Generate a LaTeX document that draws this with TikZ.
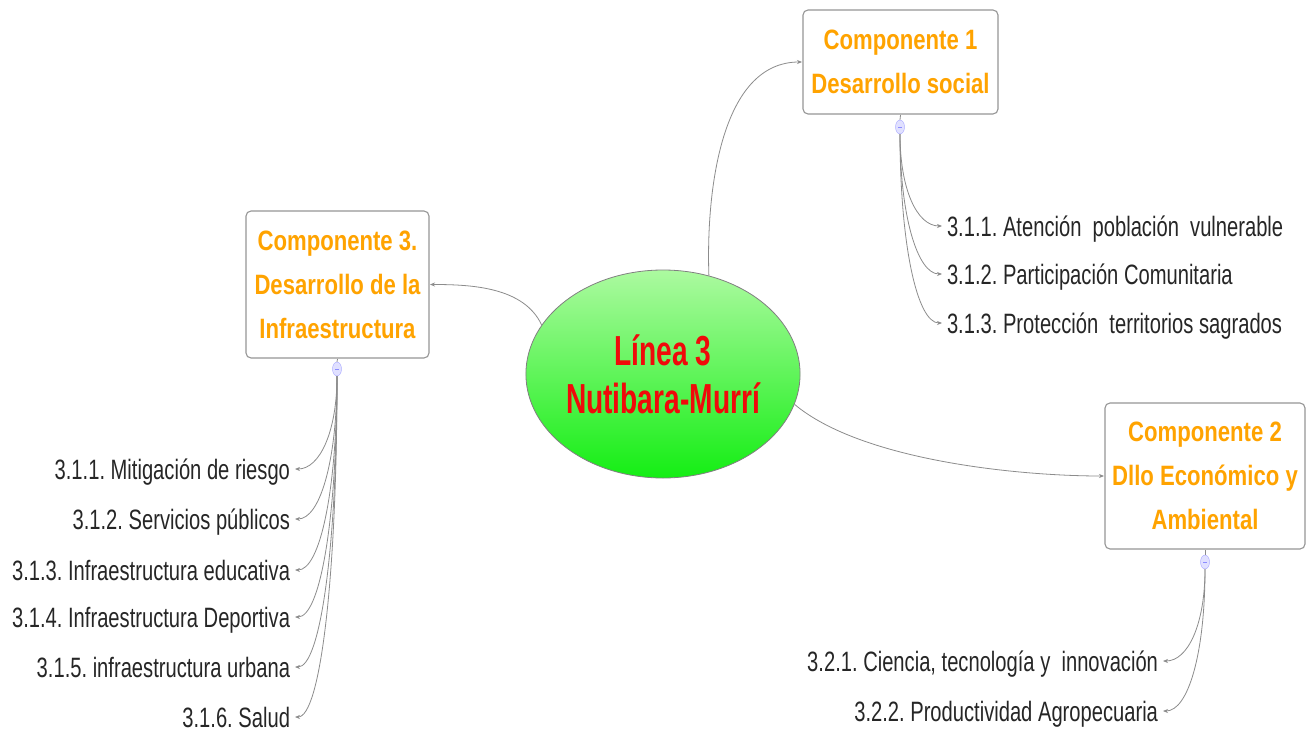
\documentclass[tikz,border=0pt]{standalone}
\usepackage{fontspec}
\setmainfont{Liberation Sans}[FakeStretch=0.72]
\newfontfamily\ctrfont{Liberation Sans}[FakeStretch=0.67]
\newfontfamily\compfont{Liberation Sans}[FakeStretch=0.79]
\usetikzlibrary{shapes.geometric,arrows.meta}
\definecolor{orangetxt}{RGB}{255,163,0}
\definecolor{redtxt}{RGB}{240,10,10}
\definecolor{lingray}{RGB}{140,140,140}
\definecolor{boxgray}{RGB}{150,150,150}
\frenchspacing
\begin{document}
\begin{tikzpicture}[x=1pt,y=1pt,
  comp/.style={draw=boxgray,line width=1.1pt,rounded corners=5pt,fill=white,align=center,
    font=\fontsize{28}{44}\compfont\bfseries,text=orangetxt,inner sep=0pt,outer sep=1pt},
  leaf/.style={font=\fontsize{28}{34}\selectfont,text=black!85,inner sep=0pt,outer sep=5pt,
    text height=20pt,text depth=0pt},
  dot/.style={ellipse,draw=blue!35,fill=blue!12,minimum width=9pt,minimum height=14pt,inner sep=0pt},
  link/.style={draw=lingray,line width=0.8pt,-{Stealth[length=5pt,width=4pt]}},
  stem/.style={draw=lingray,line width=0.8pt}]
\useasboundingbox (0,0) rectangle (1312,-731);
\fill[white] (0,0) rectangle (1312,-731);

% center
\node[ellipse,draw=gray,line width=0.8pt,minimum width=273pt,minimum height=208pt,inner sep=0pt,
  top color={rgb,255:red,172;green,250;blue,160},bottom color={rgb,255:red,20;green,238;blue,20},
  align=center,font=\fontsize{42}{48}\ctrfont\bfseries,text=redtxt] (ctr) at (663,-374)
  {Línea 3\\Nutibara-Murrí};

% components
\node[comp,minimum width=195pt,minimum height=104pt] (c1) at (900.5,-62) {Componente 1\\Desarrollo social};
\node[comp,minimum width=183pt,minimum height=147pt] (c3) at (337.5,-284.5) {Componente 3.\\Desarrollo de la\\Infraestructura};
\node[comp,minimum width=200pt,minimum height=146pt] (c2) at (1205,-476) {Componente 2\\Dllo Económico y\\Ambiental};

% collapse dots
\foreach \n/\p in {d1/{900,-127},d3/{337,-369},d2/{1205,-562}}{
  \node[dot] (\n) at (\p) {};
  \draw[blue!45,line width=0.6pt] ([xshift=-2pt]\n.center) -- ([xshift=2pt]\n.center);
}
\draw[stem] (c1.south) -- (d1.north);
\draw[stem] (c3.south) -- (d3.north);
\draw[stem] (c2.south) -- (d2.north);

% main links
\draw[link] (ctr.65) to[out=92,in=180,looseness=0.9] (c1.west);
\draw[link] (ctr.158) to[out=115,in=0,looseness=0.9] (c3.east);
\draw[link] (ctr.-13) to[out=-40,in=180,looseness=0.7] (c2.west);

% leaves comp 1
\node[leaf,anchor=west] (a1) at (942,-226) {3.1.1. Atención\ \ población\ \ vulnerable};
\node[leaf,anchor=west] (a2) at (942,-274) {3.1.2. Participación Comunitaria};
\node[leaf,anchor=west] (a3) at (942,-323) {3.1.3. Protección\ \ territorios sagrados};
\foreach \n/\d in {a1/55,a2/80,a3/110}
  \draw[link] (d1.south) to[out=-90,in=180,out distance=\d pt,in distance=25pt] (\n.west);

% leaves comp 3
\node[leaf,anchor=east] (b1) at (295,-469) {3.1.1. Mitigación de riesgo};
\node[leaf,anchor=east] (b2) at (295,-519) {3.1.2. Servicios públicos};
\node[leaf,anchor=east] (b3) at (295,-570) {3.1.3. Infraestructura educativa};
\node[leaf,anchor=east] (b4) at (295,-617) {3.1.4. Infraestructura Deportiva};
\node[leaf,anchor=east] (b5) at (295,-667) {3.1.5. infraestructura urbana};
\node[leaf,anchor=east] (b6) at (295,-717) {3.1.6. Salud};
\foreach \n/\d in {b1/55,b2/85,b3/115,b4/145,b5/175,b6/205}
  \draw[link] (d3.south) to[out=-90,in=0,out distance=\d pt,in distance=25pt] (\n.east);

% leaves comp 2
\node[leaf,anchor=east] (e1) at (1163,-661) {3.2.1. Ciencia, tecnología y\ \ innovación};
\node[leaf,anchor=east] (e2) at (1163,-711) {3.2.2. Productividad Agropecuaria};
\foreach \n/\d in {e1/55,e2/85}
  \draw[link] (d2.south) to[out=-90,in=0,out distance=\d pt,in distance=25pt] (\n.east);
\end{tikzpicture}
\end{document}
